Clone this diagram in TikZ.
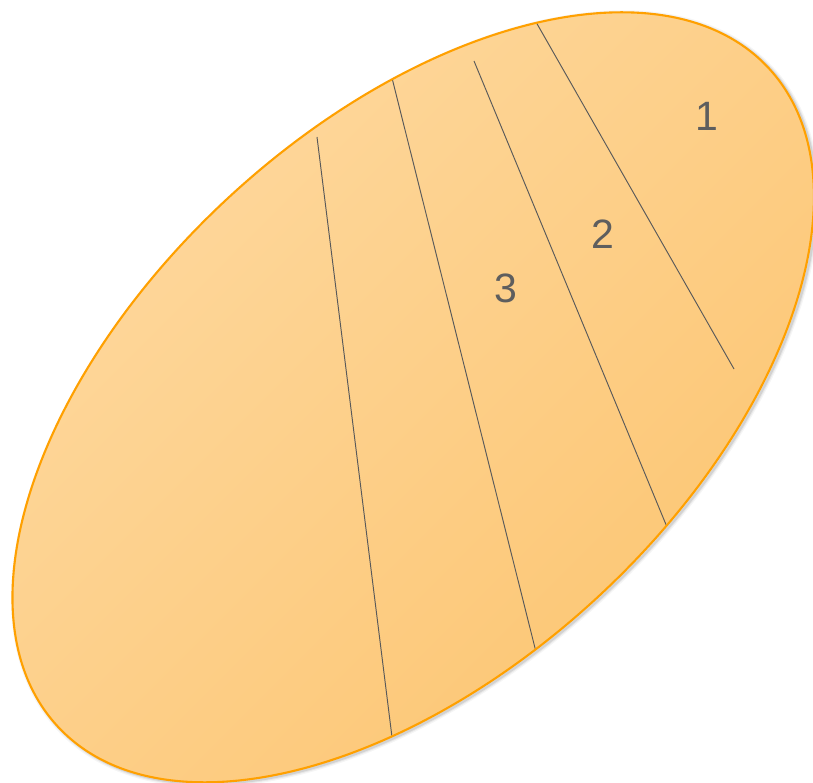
\documentclass[tikz,border=0pt]{standalone}
\usepackage{fontspec}
\setmainfont{Liberation Sans}
\usetikzlibrary{calc}
\definecolor{fillLight}{HTML}{FED9A0}
\definecolor{fillDark}{HTML}{FCC571}
\definecolor{rimOrange}{HTML}{FFA000}
\definecolor{divGray}{HTML}{5A5A5A}
\definecolor{numGray}{HTML}{5E5E5E}
\begin{document}
\begin{tikzpicture}[x=1pt,y=-1pt,
  eggxf/.style={rotate around={42.8:(413.2,397.3)}},
  divider/.style={draw=divGray, line width=0.95pt},
  numlabel/.style={text=numGray, font=\fontsize{41}{41}\selectfont, inner sep=0pt}]
\useasboundingbox (0,0) rectangle (813,783);
\def\egg{(413.2,397.3) ellipse [x radius=484.5pt, y radius=272pt]}
% soft shadow
\foreach \w/\o in {7/0.04,4.5/0.06,2.5/0.09}{
  \draw[black, opacity=\o, line width=\w pt, eggxf, shift={(0.5,2.5)}] \egg;
}
% body
\shade[eggxf, top color=fillLight, bottom color=fillDark, shading angle=45] \egg;
% dividers (clipped to the body)
\coordinate (a1) at (317,137); \coordinate (a2) at (392,737);
\coordinate (b1) at (392,78);  \coordinate (b2) at (535,648);
\coordinate (c1) at (474,61);  \coordinate (c2) at (667,527);
\coordinate (d1) at (536,22);  \coordinate (d2) at (734,369);
\begin{scope}
  \clip[eggxf] \egg;
  \draw[divider] (a1) -- ($(a1)!1.03!(a2)$);
  \draw[divider] ($(b2)!1.03!(b1)$) -- ($(b1)!1.03!(b2)$);
  \draw[divider] (c1) -- ($(c1)!1.04!(c2)$);
  \draw[divider] ($(d2)!1.05!(d1)$) -- (d2);
\end{scope}
\draw[eggxf, rimOrange, line width=2.1pt] \egg;
% labels
\node[numlabel] (n1) at (707,116) {1};
\node[numlabel] (n2) at (603,234) {2};
\node[numlabel] (n3) at (506,288) {3};
\end{tikzpicture}
\end{document}
